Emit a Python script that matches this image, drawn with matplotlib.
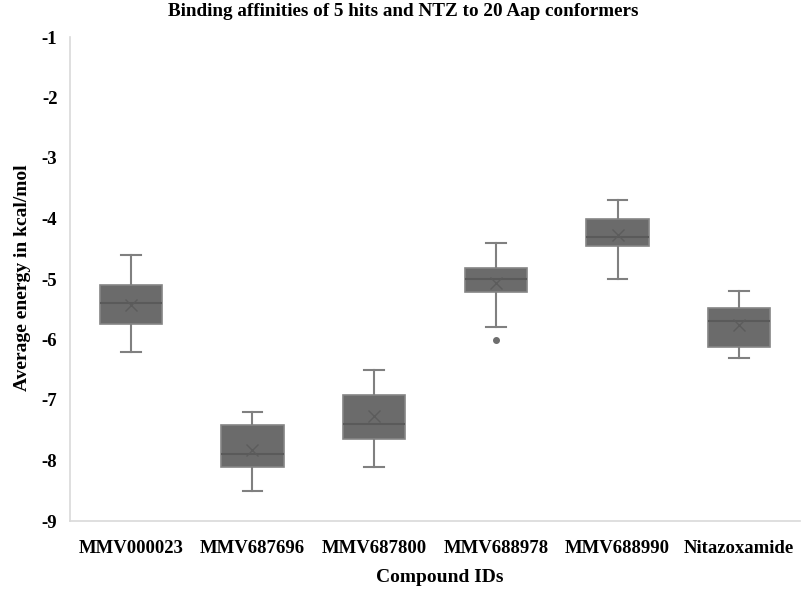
import matplotlib
matplotlib.use("Agg")
import matplotlib.pyplot as plt

plt.rcParams['font.family'] = ['Liberation Serif', 'DejaVu Serif']
plt.rcParams['font.weight'] = 'bold'
plt.rcParams['axes.unicode_minus'] = False

# compounds and their docking energy summaries (kcal/mol)
compounds = ['MMV000023', 'MMV687696', 'MMV687800', 'MMV688978', 'MMV688990', 'Nitazoxamide']
whisker_low = [-6.2, -8.5, -8.1, -5.8, -5.0, -6.3]
q1 = [-5.75, -8.1, -7.65, -5.22, -4.45, -6.12]
medians = [-5.4, -7.9, -7.4, -5.0, -4.3, -5.7]
means = [-5.43, -7.82, -7.27, -5.06, -4.27, -5.76]
q3 = [-5.1, -7.42, -6.92, -4.82, -4.0, -5.48]
whisker_high = [-4.6, -7.2, -6.5, -4.4, -3.7, -5.2]
outliers = [[], [], [], [-6.0], [], []]

stats = []
for i, name in enumerate(compounds):
    stats.append({
        'label': name,
        'whislo': whisker_low[i], 'q1': q1[i], 'med': medians[i],
        'mean': means[i], 'q3': q3[i], 'whishi': whisker_high[i],
        'fliers': outliers[i],
    })

fig = plt.figure(figsize=(8.06, 5.90), dpi=100)
ax = fig.add_axes([70/806, 1 - 521/590, 730/806, 484/590])

line_grey = '#808080'
ax.bxp(stats, positions=range(len(compounds)), widths=0.51, capwidths=0.16,
       showmeans=True, patch_artist=True,
       boxprops=dict(facecolor='#6b6b6b', edgecolor='#858585', linewidth=1.2),
       medianprops=dict(color='#5a5a5a', linewidth=1.5),
       whiskerprops=dict(color=line_grey, linewidth=1.5),
       capprops=dict(color=line_grey, linewidth=1.5),
       meanprops=dict(marker='x', markeredgecolor='#5c5c5c', markersize=8, markeredgewidth=1.0),
       flierprops=dict(marker='o', markerfacecolor='#6e6e6e', markeredgecolor='#6e6e6e', markersize=4))

ax.set_xlim(-0.5, len(compounds) - 0.5)
ax.set_ylim(-9, -1)
ax.set_yticks(range(-9, 0))
ax.set_xticks(range(len(compounds)))
ax.set_xticklabels(compounds)
ax.tick_params(axis='both', length=0, labelsize=13.5)
ax.tick_params(axis='y', pad=9)
ax.tick_params(axis='x', pad=14)

for s in ['top', 'right']:
    ax.spines[s].set_visible(False)
for s in ['left', 'bottom']:
    ax.spines[s].set_color('#d9d9d9')
    ax.spines[s].set_linewidth(1.2)

fig.text(0.5, 1 - 11/590, 'Binding affinities of 5 hits and NTZ to 20 Aap conformers',
         ha='center', va='center', fontsize=13.8, fontweight='bold')
fig.text(440/806, 1 - 577/590, 'Compound IDs', ha='center', va='center',
         fontsize=14, fontweight='bold')
fig.text(23/806, 1 - 278/590, 'Average energy in kcal/mol', ha='center', va='center',
         rotation=90, fontsize=14, fontweight='bold')

plt.savefig('out.png', dpi=100)
